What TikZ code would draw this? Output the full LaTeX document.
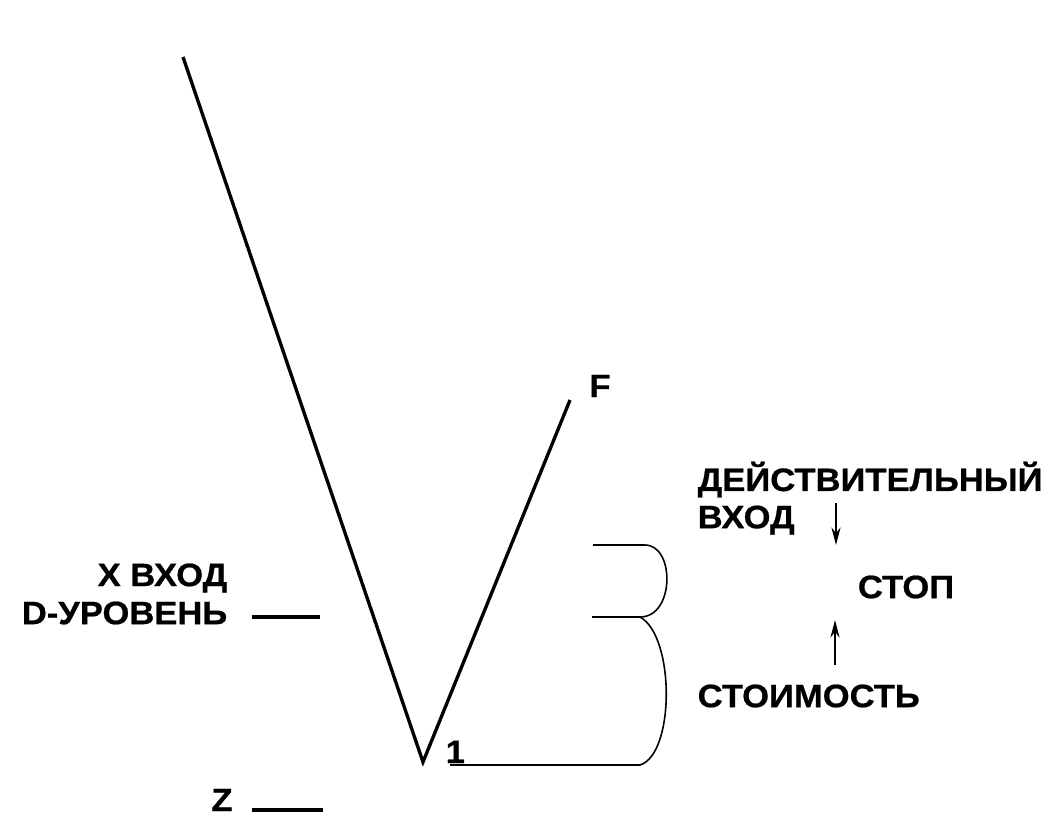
\documentclass[tikz,border=0pt]{standalone}
\usepackage{fontspec}
\setmainfont{Liberation Sans}[FakeStretch=1.07, BoldFeatures={FakeBold=0.7}]
\usepackage{tikz}
\usetikzlibrary{arrows.meta, positioning}
\tikzset{
  >=latex,
  % lines of the V
  leg/.style={line width=0.95pt},
  % thin bracket lines
  brk/.style={line width=0.45pt},
  tick/.style={line width=0.9pt},
  lbl/.style={font=\bfseries\fontsize{9.2}{10.6}\selectfont, inner sep=0pt},
  flow/.style={-{Stealth[length=5pt,width=2.6pt]}, line width=0.4pt}
}
\begin{document}
\begin{tikzpicture}
  \useasboundingbox (0,0) rectangle (10.54,8.16);
  % the V
  \coordinate (top) at (1.83,7.59);
  \coordinate (vtx) at (4.23,0.54);
  \coordinate (fend) at (5.70,4.16);
  \draw[leg] (top) -- (vtx) -- (fend);
  \node[lbl] (flab) at (6.00,4.30) {F};
  \node[lbl, anchor=base west] (one) at (4.45,0.53) {1};
  % level marks on the left
  \coordinate (da) at (2.52,1.99);
  \coordinate (db) at (3.20,1.99);
  \draw[tick] (da) -- (db);
  \node[lbl, anchor=east] (xin) at (2.28,2.38) {X ВХОД};
  \node[lbl, anchor=east] (dlev) at (2.28,2.03) {D-УРОВЕНЬ};
  \coordinate (za) at (2.52,0.06);
  \coordinate (zb) at (3.23,0.06);
  \draw[tick] (za) -- (zb);
  \node[lbl] (zlab) at (2.22,0.16) {Z};
  % brackets
  \coordinate (ba) at (5.93,2.71);
  \coordinate (bb) at (6.45,2.71);
  \coordinate (ma) at (5.92,1.99);
  \coordinate (mb) at (6.40,1.99);
  \coordinate (la) at (4.50,0.51);
  \coordinate (lb) at (6.40,0.51);
  \draw[brk] (ba) -- (bb) .. controls (6.75,2.71) and (6.75,1.99) .. (mb);
  \draw[brk] (ma) -- (mb) .. controls (6.75,1.80) and (6.75,0.62) .. (lb) -- (la);
  % labels on the right
  \node[lbl, anchor=north west, align=left] (real) at (6.97,3.55) {ДЕЙСТВИТЕЛЬНЫЙ\\ВХОД};
  \node[lbl] (stop) at (9.06,2.29) {СТОП};
  \node[lbl, anchor=west] (cost) at (6.97,1.20) {СТОИМОСТЬ};
  \coordinate (aa) at (8.36,3.13);
  \coordinate (ab) at (8.36,2.71);
  \coordinate (ca) at (8.35,1.51);
  \coordinate (cb) at (8.35,1.96);
  \draw[flow] (aa) -- (ab);
  \draw[flow] (ca) -- (cb);
\end{tikzpicture}
\end{document}
